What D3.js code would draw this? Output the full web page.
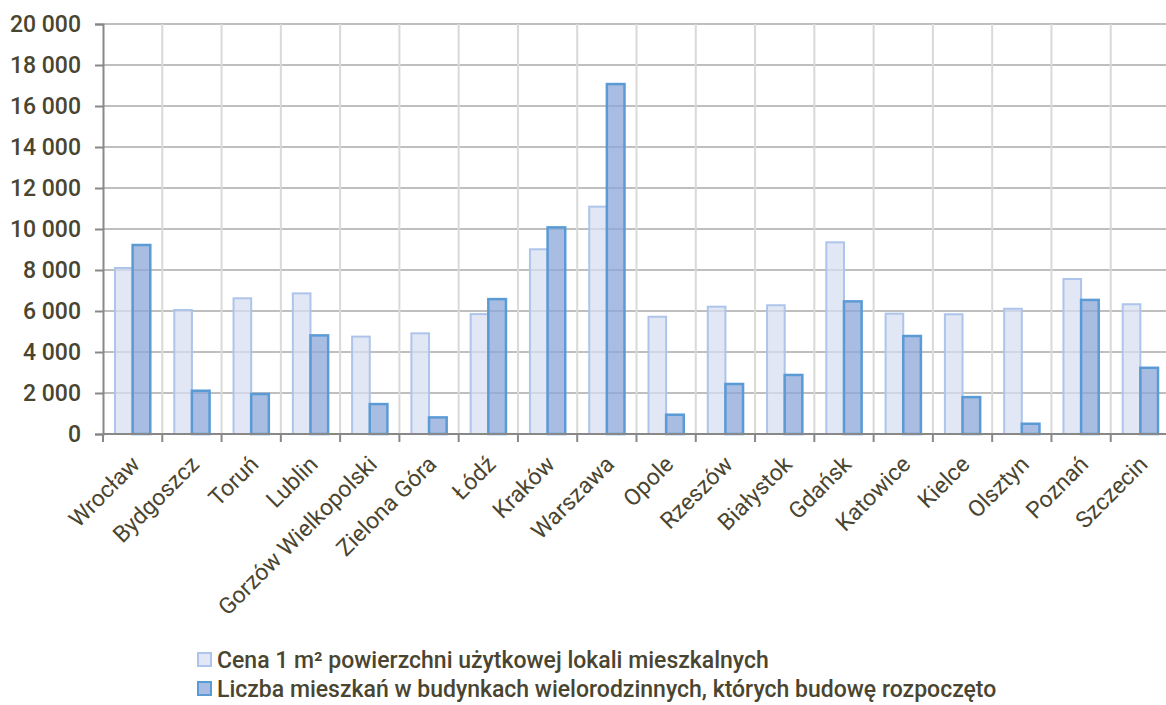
<!DOCTYPE html>
<html>
<head>
<meta charset="utf-8">
<script src="https://cdn.jsdelivr.net/npm/d3@7"></script>
<style>
  html, body { margin: 0; padding: 0; background: #fff; overflow: hidden; }
  text { font-family: Roboto, "Noto Sans", sans-serif; fill: #4a4530; }
</style>
</head>
<body>
<script>
const cities = ["Wrocław", "Bydgoszcz", "Toruń", "Lublin", "Gorzów Wielkopolski", "Zielona Góra",
    "Łódź", "Kraków", "Warszawa", "Opole", "Rzeszów", "Białystok", "Gdańsk", "Katowice",
    "Kielce", "Olsztyn", "Poznań", "Szczecin"];
const cena = [8100, 6050, 6620, 6860, 4750, 4910, 5850, 9010, 11090, 5720, 6210, 6280, 9350, 5870,
    5840, 6110, 7560, 6330];
const mieszkania = [9220, 2110, 1950, 4810, 1460, 810, 6580, 10080, 17070, 940, 2440, 2880, 6470, 4780,
    1800, 500, 6540, 3230];
const seriesNames = ["Cena 1 m² powierzchni użytkowej lokali mieszkalnych",
    "Liczba mieszkań w budynkach wielorodzinnych, których budowę rozpoczęto"];
const yTicks = [0, 2000, 4000, 6000, 8000, 10000, 12000, 14000, 16000, 18000, 20000];

const width = 1166, height = 705;
const plot = {left: 103, right: 1170, top: 24, bottom: 434};

const svg = d3.select("body").append("svg")
    .attr("width", width)
    .attr("height", height);

const xScale = d3.scaleBand()
    .domain(cities)
    .range([plot.left, plot.right]);

const subScale = d3.scaleBand()
    .domain([0, 1])
    .range([0, xScale.bandwidth()])
    .paddingOuter(0.68);

const yScale = d3.scaleLinear()
    .domain([0, 20000])
    .range([plot.bottom, plot.top]);

// grid
svg.append("g").attr("class", "hgrid")
    .selectAll("line").data(yTicks.slice(1)).join("line")
    .attr("x1", plot.left).attr("x2", plot.right)
    .attr("y1", (d) => yScale(d)).attr("y2", (d) => yScale(d))
    .attr("stroke", "#bfbfbf").attr("stroke-width", 2);

svg.append("g").attr("class", "vgrid")
    .selectAll("line").data(cities.slice(1)).join("line")
    .attr("x1", (d) => xScale(d)).attr("x2", (d) => xScale(d))
    .attr("y1", plot.top).attr("y2", plot.bottom)
    .attr("stroke", "#d9d9d9").attr("stroke-width", 2);

// bars
const fills = ["rgba(214,222,240,0.73)", "rgba(140,167,218,0.75)"];
const strokes = ["#aec4ea", "#5b9bd5"];
const values = [cena, mieszkania];

const groups = svg.append("g").attr("class", "bars")
    .selectAll("g").data(cities).join("g")
    .attr("transform", (d) => "translate(" + xScale(d) + ",0)");

groups.selectAll("rect")
    .data((d, i) => [0, 1].map((s) => ({s: s, v: values[s][i]})))
    .join("rect")
    .attr("x", (d) => subScale(d.s))
    .attr("width", subScale.bandwidth())
    .attr("y", (d) => yScale(d.v))
    .attr("height", (d) => plot.bottom - yScale(d.v))
    .attr("fill", (d) => fills[d.s])
    .attr("stroke", (d) => strokes[d.s])
    .attr("stroke-width", (d) => d.s === 0 ? 2 : 2.5);

// y axis
const yAxis = svg.append("g").attr("class", "yaxis")
    .attr("transform", "translate(" + plot.left + ",0)")
    .call(d3.axisLeft(yScale).tickValues(yTicks).tickSize(8).tickPadding(14)
        .tickFormat((d) => d3.format(",")(d).replace(/,/g, " ")));
yAxis.select(".domain").attr("stroke", "#888").attr("stroke-width", 2);
yAxis.selectAll(".tick line").attr("stroke", "#888").attr("stroke-width", 2);
yAxis.selectAll("text")
    .style("font-size", "23px").style("font-weight", "500")
    .attr("fill", "#4a4530");

// x axis
const xTickPos = cities.map((d) => xScale(d)).concat([plot.right]);
svg.append("line")
    .attr("x1", plot.left).attr("x2", plot.right)
    .attr("y1", plot.bottom).attr("y2", plot.bottom)
    .attr("stroke", "#888").attr("stroke-width", 2);
svg.append("g").attr("class", "xticks")
    .selectAll("line").data(xTickPos).join("line")
    .attr("x1", (d) => d).attr("x2", (d) => d)
    .attr("y1", plot.bottom).attr("y2", plot.bottom + 8)
    .attr("stroke", "#888").attr("stroke-width", 2);

svg.append("g").attr("class", "xlabels")
    .selectAll("text").data(cities).join("text")
    .attr("transform", (d) => "translate(" + (xScale(d) + xScale.bandwidth() / 2 + 3) + "," + (plot.bottom + 26) + ") rotate(-45)")
    .attr("text-anchor", "end")
    .attr("dy", "0.35em")
    .style("font-size", "23px")
    .text((d) => d);

// legend
const legend = svg.append("g").attr("class", "legend")
    .attr("transform", "translate(197,652)");
const items = legend.selectAll("g").data(seriesNames).join("g")
    .attr("transform", (d, i) => "translate(0," + (i * 29) + ")");
items.append("rect")
    .attr("x", 1).attr("y", 1).attr("width", 13).attr("height", 13)
    .attr("fill", (d, i) => fills[i])
    .attr("stroke", (d, i) => strokes[i])
    .attr("stroke-width", 2);
items.append("text")
    .attr("x", 20).attr("y", 8).attr("dy", "0.35em")
    .style("font-size", "23px").style("font-weight", "500")
    .text((d) => d);
</script>
</body>
</html>
